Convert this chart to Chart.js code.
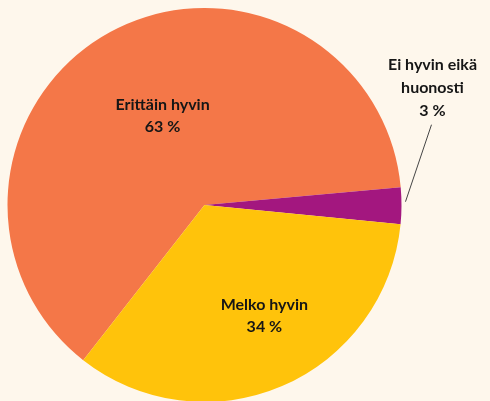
<!DOCTYPE html>
<html>
<head>
<meta charset="utf-8">
<script src="https://cdn.jsdelivr.net/npm/chart.js@4/dist/chart.umd.min.js"></script>
<style>
  html, body { margin: 0; padding: 0; background: #fef7ec; overflow: hidden; }
  #wrap { width: 490px; height: 410px; }
</style>
</head>
<body>
<div id="wrap"><canvas id="pie"></canvas></div>
<script>
// Data
const labels = ['Erittäin hyvin', 'Ei hyvin eikä huonosti', 'Melko hyvin'];
const labelLines = [['Erittäin hyvin'], ['Ei hyvin eikä', 'huonosti'], ['Melko hyvin']];
const values = [63, 3, 34];
const colors = ['#f47748', '#a3177f', '#ffc30b'];

// Draw the slice labels (inside for big slices, outside with a leader line for the small one)
const sliceLabels = {
  id: 'sliceLabels',
  afterDatasetsDraw(chart) {
    const ctx = chart.ctx;
    const meta = chart.getDatasetMeta(0);
    ctx.save();
    ctx.fillStyle = '#161616';
    ctx.textAlign = 'center';
    ctx.textBaseline = 'middle';
    ctx.font = 'bold 16px Lato';
    meta.data.forEach((arc, i) => {
      const p = arc.getProps(['x', 'y', 'startAngle', 'endAngle', 'outerRadius'], true);
      const mid = (p.startAngle + p.endAngle) / 2;
      const lines = labelLines[i].concat([values[i] + ' %']);
      if (i === 1) {
        // outside label + leader line
        const ex = p.x + Math.cos(mid) * (p.outerRadius + 4);
        const ey = p.y + Math.sin(mid) * (p.outerRadius + 4) - 4;
        ctx.strokeStyle = '#444';
        ctx.lineWidth = 1;
        ctx.beginPath();
        ctx.moveTo(ex, ey);
        ctx.lineTo(ex + 26, ey - 77);
        ctx.stroke();
        const lx = ex + 27, ly = ey - 137;
        lines.forEach((t, k) => ctx.fillText(t, lx, ly + k * 23));
      } else {
        const frac = i === 0 ? 0.5 : 0.64;
        const a = i === 0 ? mid + 0.06 : mid - 0.09;
        const cx = p.x + Math.cos(a) * p.outerRadius * frac;
        const cy = p.y + Math.sin(a) * p.outerRadius * frac;
        const h = (lines.length - 1) * 22;
        lines.forEach((t, k) => ctx.fillText(t, cx, cy - h / 2 + k * 22));
      }
    });
    ctx.restore();
  }
};

new Chart(document.getElementById('pie'), {
  type: 'pie',
  data: {
    labels: labels,
    datasets: [{
      data: values,
      backgroundColor: colors,
      borderWidth: 0
    }]
  },
  options: {
    responsive: true,
    maintainAspectRatio: false,
    animation: false,
    rotation: 218,
    layout: { padding: { left: 7.5, right: 88.5, top: 8, bottom: 8 } },
    plugins: {
      legend: { display: false },
      tooltip: { enabled: false }
    }
  },
  plugins: [sliceLabels]
});
</script>
</body>
</html>
